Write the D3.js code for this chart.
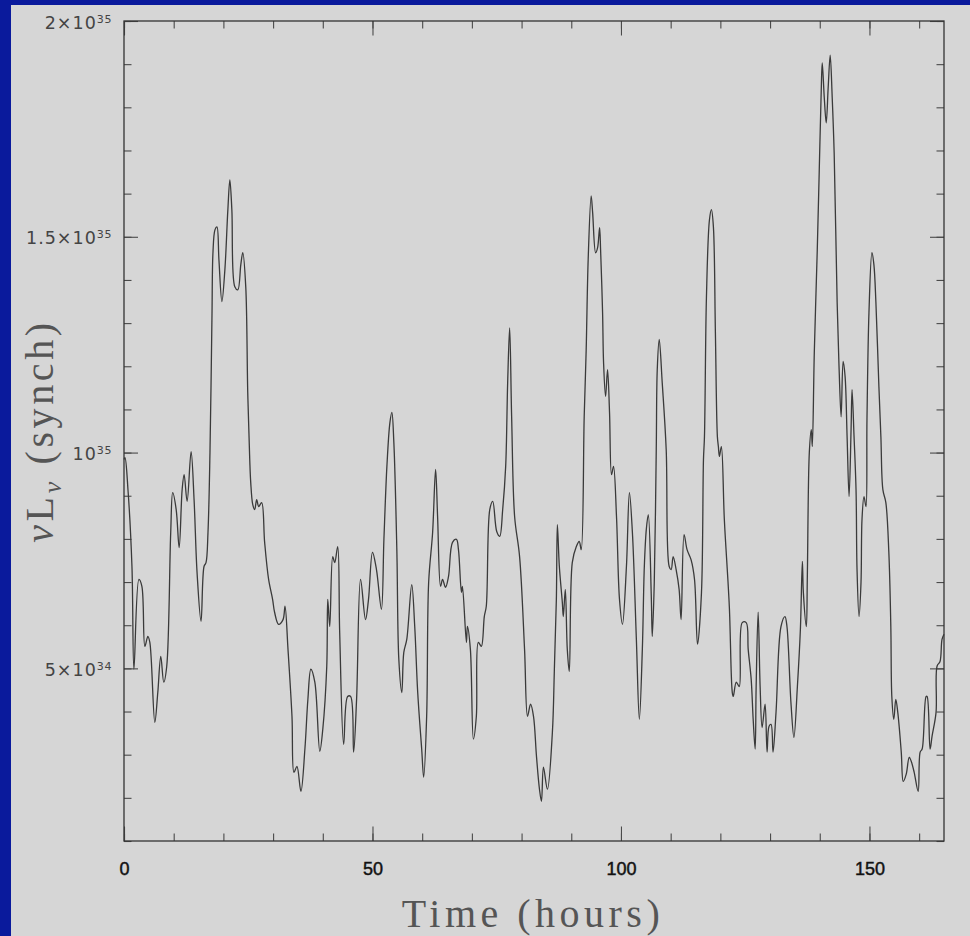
<!DOCTYPE html>
<html>
<head>
<meta charset="utf-8">
<script src="https://cdn.jsdelivr.net/npm/d3@7/dist/d3.min.js"></script>
<style>
  html, body { margin: 0; padding: 0; background: #0a1a9c; }
  svg { display: block; }
</style>
</head>
<body>
<script>
// Light curve: synchrotron luminosity vs. time
const hours = [0,0.2,0.8,1.6,2.0,3.0,3.6,4.2,4.8,5.2,6.2,6.8,7.4,8.0,8.6,9.4,9.8,10.5,11.1,11.7,12.1,12.7,13.5,14.1,14.7,15.5,16.1,16.5,16.9,17.3,17.7,17.9,18.3,18.7,19.1,19.7,20.3,20.9,21.3,21.7,22.3,22.9,23.5,23.9,24.5,24.9,25.3,25.5,25.9,26.3,26.7,27.1,27.7,28.3,29.1,29.9,30.3,31.1,32.0,32.4,33.0,33.8,34.2,34.8,35.6,36.4,37.0,37.6,38.4,39.4,40.0,40.8,41.0,41.4,42.0,42.4,43.0,43.4,44.2,45.0,45.6,46.2,46.8,47.6,48.6,49.2,50.0,50.8,51.8,52.3,52.9,53.5,53.9,54.3,54.9,55.3,55.9,56.3,56.9,57.9,58.5,59.1,59.9,60.3,60.9,61.3,62.1,62.7,63.1,63.7,64.1,64.7,65.3,66.1,66.9,67.3,67.9,68.1,68.9,69.1,69.7,70.3,70.9,71.3,71.9,72.5,72.9,73.6,74.2,75.0,75.6,76.2,76.8,77.2,77.6,78.0,78.6,79.6,80.6,81.2,81.8,82.4,83.0,83.6,84.0,84.4,85.2,86.2,86.6,87.0,87.2,87.6,88.2,88.4,88.8,89.2,89.6,90.2,91.0,91.6,92.0,92.6,93.0,93.4,94.0,94.3,94.9,95.3,95.7,95.9,96.3,96.5,96.9,97.3,97.7,98.1,98.5,99.1,99.7,100.3,101.1,101.7,102.3,103.1,103.7,104.3,104.7,105.1,105.5,106.1,106.3,106.7,107.1,107.3,107.7,108.3,109.1,109.7,110.1,110.5,111.1,111.7,112.1,112.7,113.3,114.1,114.8,115.4,116.2,116.6,116.8,117.2,117.8,118.2,118.6,119.0,119.4,119.6,119.8,120.2,120.8,121.8,122.4,122.6,123.2,123.8,124.4,125.2,125.6,126.2,126.6,127.0,127.2,127.6,128.0,128.4,129.0,129.4,129.8,130.2,130.6,131.2,132.2,133.0,133.4,134.2,134.8,135.5,136.1,136.5,136.7,137.3,137.5,137.9,138.3,138.5,138.9,139.5,139.9,140.3,140.5,140.9,141.3,141.7,142.1,142.5,142.9,143.5,143.9,144.3,144.7,145.1,145.5,145.9,146.3,146.5,146.9,147.3,147.5,147.9,148.3,148.5,148.9,149.3,149.5,149.9,150.5,150.9,151.3,151.9,152.3,152.7,153.3,153.9,154.3,154.5,154.9,155.3,155.7,156.4,156.8,157.4,158.0,158.4,159.0,159.8,160.2,160.6,161.4,161.6,162.2,162.6,163.4,163.6,164.2,164.6,165.0];

// nu L_nu in units of 1e34
const lum34 = [9.84,9.88,9.14,7.36,4.98,7.06,6.90,5.51,5.74,5.60,3.75,4.44,5.28,4.68,5.05,8.15,9.07,8.68,7.80,9.14,9.49,8.87,10.02,8.91,7.22,6.09,7.36,7.45,8.15,10.0,13.15,14.63,15.16,15.23,14.47,13.50,14.24,15.63,16.32,15.63,13.84,13.77,14.35,14.63,13.84,11.39,9.84,9.31,8.80,8.68,8.91,8.75,8.84,7.92,7.06,6.60,6.30,6.02,6.13,6.44,5.44,3.89,2.59,2.73,2.15,3.13,4.28,4.98,4.68,3.08,3.59,5.05,6.60,5.97,7.59,7.45,7.82,5.83,3.24,4.35,4.35,3.06,4.28,7.06,6.13,6.60,7.69,7.29,6.37,7.99,9.68,10.69,10.93,10.23,7.75,5.21,4.44,5.37,5.67,6.94,5.97,4.44,3.13,2.48,3.89,6.99,8.15,9.61,8.52,6.90,7.06,6.88,7.13,7.92,7.99,7.75,6.76,6.90,5.60,5.97,5.44,3.36,3.89,5.60,5.51,6.20,6.44,8.68,8.87,8.17,8.06,8.68,9.68,11.62,12.89,10.83,8.52,7.59,5.44,3.89,4.17,3.89,2.96,2.20,1.92,2.71,2.20,3.52,4.98,6.60,8.33,7.36,6.53,6.20,6.83,5.44,4.93,7.45,7.82,7.94,7.75,10.83,12.38,14.47,15.95,15.56,14.63,14.75,15.21,14.70,13.24,12.08,11.30,11.92,10.93,9.49,9.68,8.52,6.60,6.02,7.36,9.07,8.15,5.67,3.82,5.44,7.36,8.22,8.56,6.67,5.74,6.99,10.07,11.92,12.62,11.62,10.07,7.36,7.29,7.59,7.29,6.83,6.13,8.10,7.75,7.52,7.06,5.56,6.76,9.84,10.37,13.61,15.39,15.63,15.23,12.78,10.37,10.14,9.91,10.14,8.45,6.44,4.44,4.35,4.68,4.58,6.06,6.06,5.44,4.75,3.82,3.13,4.58,6.30,4.58,3.63,4.17,3.06,3.66,3.70,3.06,3.98,5.97,6.20,5.97,4.21,3.40,4.58,5.90,7.48,6.76,5.97,7.13,10.00,10.53,10.14,12.31,14.70,16.55,18.40,19.03,18.24,17.64,18.47,19.21,18.24,16.94,13.47,11.92,10.83,12.11,11.76,10.37,8.98,10.53,11.46,10.37,9.14,7.29,6.20,6.99,8.45,8.98,8.75,10.76,13.24,14.63,14.35,13.47,11.53,10.37,9.14,8.84,7.69,5.97,4.35,3.82,4.28,3.98,3.06,2.38,2.55,2.94,2.85,2.59,2.15,3.06,3.13,4.35,4.35,3.13,3.43,3.98,5.05,5.16,5.67,5.79];
const LUM_UNIT = 1e34;

// Axis ticks and labels
const xTickValues = [0, 50, 100, 150];
const xMinorValues = d3.range(0, 166, 10);
const yTickValues = [5e34, 1e35, 1.5e35, 2e35];
const yTickMantissa = ["5\u00d710", "10", "1.5\u00d710", "2\u00d710"];
const yTickExponent = ["34", "35", "35", "35"];
const yMinorValues = d3.range(1, 21).map(k => k * 1e34);

const W = 970, H = 936;
const plot = { left: 124, right: 944, top: 21, bottom: 841 };

const svg = d3.select("body").append("svg").attr("width", W).attr("height", H);

// panel
svg.append("rect").attr("x", 0).attr("y", 0).attr("width", W).attr("height", H).attr("fill", "#0a1a9c");
svg.append("rect").attr("x", 11).attr("y", 5).attr("width", W - 11).attr("height", H - 5).attr("fill", "#d6d6d6");

const x = d3.scaleLinear().domain([0, 165]).range([plot.left, plot.right]);
const y = d3.scaleLinear().domain([1e34, 2e35]).range([plot.bottom, plot.top]);

const tickColor = "#4a4a4a";

function styleAxis(g) {
  g.select(".domain").remove();
  g.selectAll(".tick line").attr("stroke", tickColor).attr("stroke-width", 1.1);
}

// minor ticks on all four sides
svg.append("g").attr("transform", `translate(0,${plot.bottom})`)
  .call(d3.axisBottom(x).tickValues(xMinorValues).tickSize(-7.5).tickFormat(""))
  .call(styleAxis);
svg.append("g").attr("transform", `translate(0,${plot.top})`)
  .call(d3.axisTop(x).tickValues(xMinorValues).tickSize(-7.5).tickFormat(""))
  .call(styleAxis);
svg.append("g").attr("transform", `translate(${plot.left},0)`)
  .call(d3.axisLeft(y).tickValues(yMinorValues).tickSize(-7.5).tickFormat(""))
  .call(styleAxis);
svg.append("g").attr("transform", `translate(${plot.right},0)`)
  .call(d3.axisRight(y).tickValues(yMinorValues).tickSize(-7.5).tickFormat(""))
  .call(styleAxis);

// major ticks
const xAxis = svg.append("g").attr("transform", `translate(0,${plot.bottom})`)
  .call(d3.axisBottom(x).tickValues(xTickValues).tickSize(-14.5).tickFormat(d3.format("d")))
  .call(styleAxis);
xAxis.selectAll(".tick text")
  .attr("y", 34).attr("dy", null)
  .attr("font-family", "'Liberation Sans', Arial, sans-serif")
  .attr("font-size", 18)
  .attr("fill", "#111").attr("stroke", "#111").attr("stroke-width", 0.45);

svg.append("g").attr("transform", `translate(0,${plot.top})`)
  .call(d3.axisTop(x).tickValues(xTickValues).tickSize(-14.5).tickFormat(""))
  .call(styleAxis);

const yAxis = svg.append("g").attr("transform", `translate(${plot.left},0)`)
  .call(d3.axisLeft(y).tickValues(yTickValues).tickSize(-14).tickFormat(""))
  .call(styleAxis);
yAxis.selectAll(".tick text").each(function(d) {
  const i = yTickValues.indexOf(d);
  const t = d3.select(this)
    .attr("x", -12).attr("dy", null).attr("y", 7)
    .attr("text-anchor", "end")
    .attr("font-family", "'DejaVu Sans', sans-serif")
    .attr("fill", "#444")
    .text(null);
  t.append("tspan").attr("font-size", 17.5).attr("letter-spacing", 1.0).text(yTickMantissa[i]);
  t.append("tspan").attr("font-size", 11).attr("dy", -6).attr("letter-spacing", 0.6).text(yTickExponent[i]);
});

svg.append("g").attr("transform", `translate(${plot.right},0)`)
  .call(d3.axisRight(y).tickValues(yTickValues).tickSize(-14).tickFormat(""))
  .call(styleAxis);

// frame
svg.append("rect")
  .attr("x", plot.left).attr("y", plot.top)
  .attr("width", plot.right - plot.left).attr("height", plot.bottom - plot.top)
  .attr("fill", "none").attr("stroke", "#333").attr("stroke-width", 1.3);

// curve
const series = d3.zip(hours, lum34).map(([t, v]) => ({ t, v: v * LUM_UNIT }));
const line = d3.line()
  .x(d => x(d.t))
  .y(d => y(d.v))
  .curve(d3.curveCatmullRom.alpha(0.5));

svg.append("path")
  .datum(series)
  .attr("d", line)
  .attr("fill", "none")
  .attr("stroke", "#3a3a3a")
  .attr("stroke-width", 1.3)
  .attr("stroke-linejoin", "round");

// stretch a text element to a given width via letter spacing
function fitWidth(sel, target) {
  const node = sel.node();
  const n = node.getNumberOfChars();
  const len = node.getComputedTextLength();
  if (n > 1) sel.attr("letter-spacing", (target - len) / (n - 1));
}

// axis titles
const xTitle = svg.append("text")
  .attr("x", 533).attr("y", 927)
  .attr("text-anchor", "middle")
  .attr("font-family", "'Liberation Serif', 'DejaVu Serif', serif")
  .attr("font-size", 40)
  .attr("fill", "#555")
  .text("Time (hours)");
fitWidth(xTitle, 258);

const yTitle = svg.append("text")
  .attr("transform", "translate(53,431) rotate(-90)")
  .attr("text-anchor", "middle")
  .attr("font-family", "'Liberation Serif', 'DejaVu Serif', serif")
  .attr("font-size", 40)
  .attr("fill", "#555");
yTitle.append("tspan").attr("font-style", "italic").text("\u03bd");
yTitle.append("tspan").text("L");
yTitle.append("tspan").attr("font-style", "italic").attr("font-size", 26).attr("dy", 8).text("\u03bd");
yTitle.append("tspan").attr("dy", -8).text(" (synch)");
fitWidth(yTitle, 220);
</script>
</body>
</html>
